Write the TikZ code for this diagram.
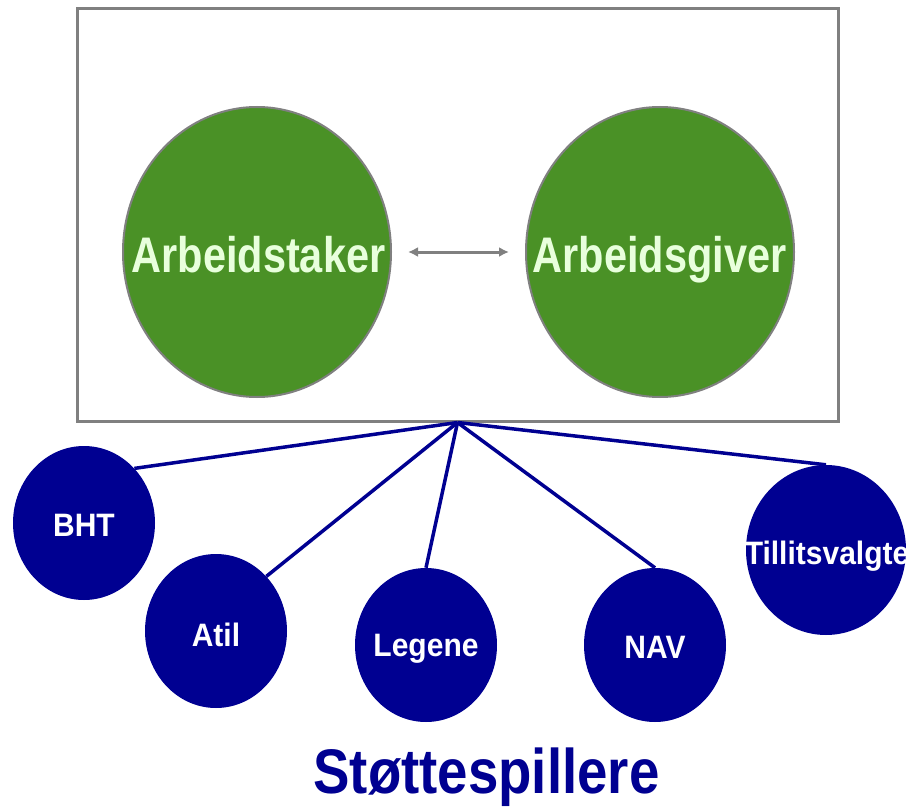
\documentclass[tikz,border=0pt]{standalone}
\usepackage{fontspec}
\setmainfont{Liberation Sans}
\usetikzlibrary{shapes.geometric,arrows.meta}
\definecolor{grn}{RGB}{74,145,38}
\definecolor{grntxt}{RGB}{232,255,220}
\definecolor{navy}{RGB}{0,0,145}
\definecolor{framegray}{RGB}{128,128,128}
\begin{document}
\begin{tikzpicture}[x=1pt,y=-1pt,
 bigball/.style={ellipse, draw=framegray, line width=2pt, fill=grn, minimum width=268pt, minimum height=290pt, inner sep=0pt},
 bigtext/.style={text=grntxt, font=\fontsize{50}{50}\selectfont\bfseries, inner sep=0pt},
 ball/.style={ellipse, fill=navy, minimum width=142pt, minimum height=154pt, inner sep=0pt},
 balltext/.style={text=white, font=\fontsize{30}{30}\selectfont\bfseries, inner sep=0pt, text height=23pt, text depth=0pt},
 link/.style={navy, line width=3.5pt},
]
\useasboundingbox (0,0) rectangle (914,808);
\node[draw=framegray, line width=3pt, minimum width=761pt, minimum height=412pt, inner sep=0pt] (box) at (457.5,215) {};
\node[bigball] (ast) at (257,252) {};
\node[bigball] (agv) at (660,252) {};
\node[bigtext, anchor=base] (astlbl) at (258.5,272) {\scalebox{0.83}[1]{Arbeidstaker}};
\node[bigtext, anchor=base] (agvlbl) at (659.5,272) {\scalebox{0.83}[1]{Arbeidsgiver}};
\draw[framegray, line width=3pt, {Latex[length=10pt,width=10pt]}-{Latex[length=10pt,width=10pt]}, shorten <=16pt, shorten >=16pt] (ast) -- (agv);

\node[ball] (bht) at (84,523) {};
\node[ball] (atil) at (216,631) {};
\node[ball] (leg) at (426,645) {};
\node[ball] (nav) at (655,645) {};
\node[ball, minimum width=160pt, minimum height=170pt] (till) at (826,550) {};

\node[balltext] (bhtlbl) at (84,525) {\scalebox{1}[1.08]{BHT}};
\node[balltext] (atillbl) at (216,635) {\scalebox{1}[1.08]{Atil}};
\node[balltext] (leglbl) at (426,645) {\scalebox{1}[1.08]{Legene}};
\node[balltext] (navlbl) at (655,647) {\scalebox{1}[1.08]{NAV}};
\node[balltext] (tilllbl) at (827,553) {\scalebox{1}[1.08]{Tillitsvalgte}};

\draw[link] (box.south) -- (bht.north east);
\draw[link] (box.south) -- (atil.north east);
\draw[link] (box.south) -- (leg.north);
\draw[link] (box.south) -- (nav.north);
\draw[link] (box.south) -- (till.north);

\node[font=\fontsize{60}{60}\selectfont\bfseries, text=navy, anchor=base, inner sep=0pt] (title) at (486.5,793) {\scalebox{0.91}[1.05]{Støttespillere}};
\end{tikzpicture}
\end{document}
